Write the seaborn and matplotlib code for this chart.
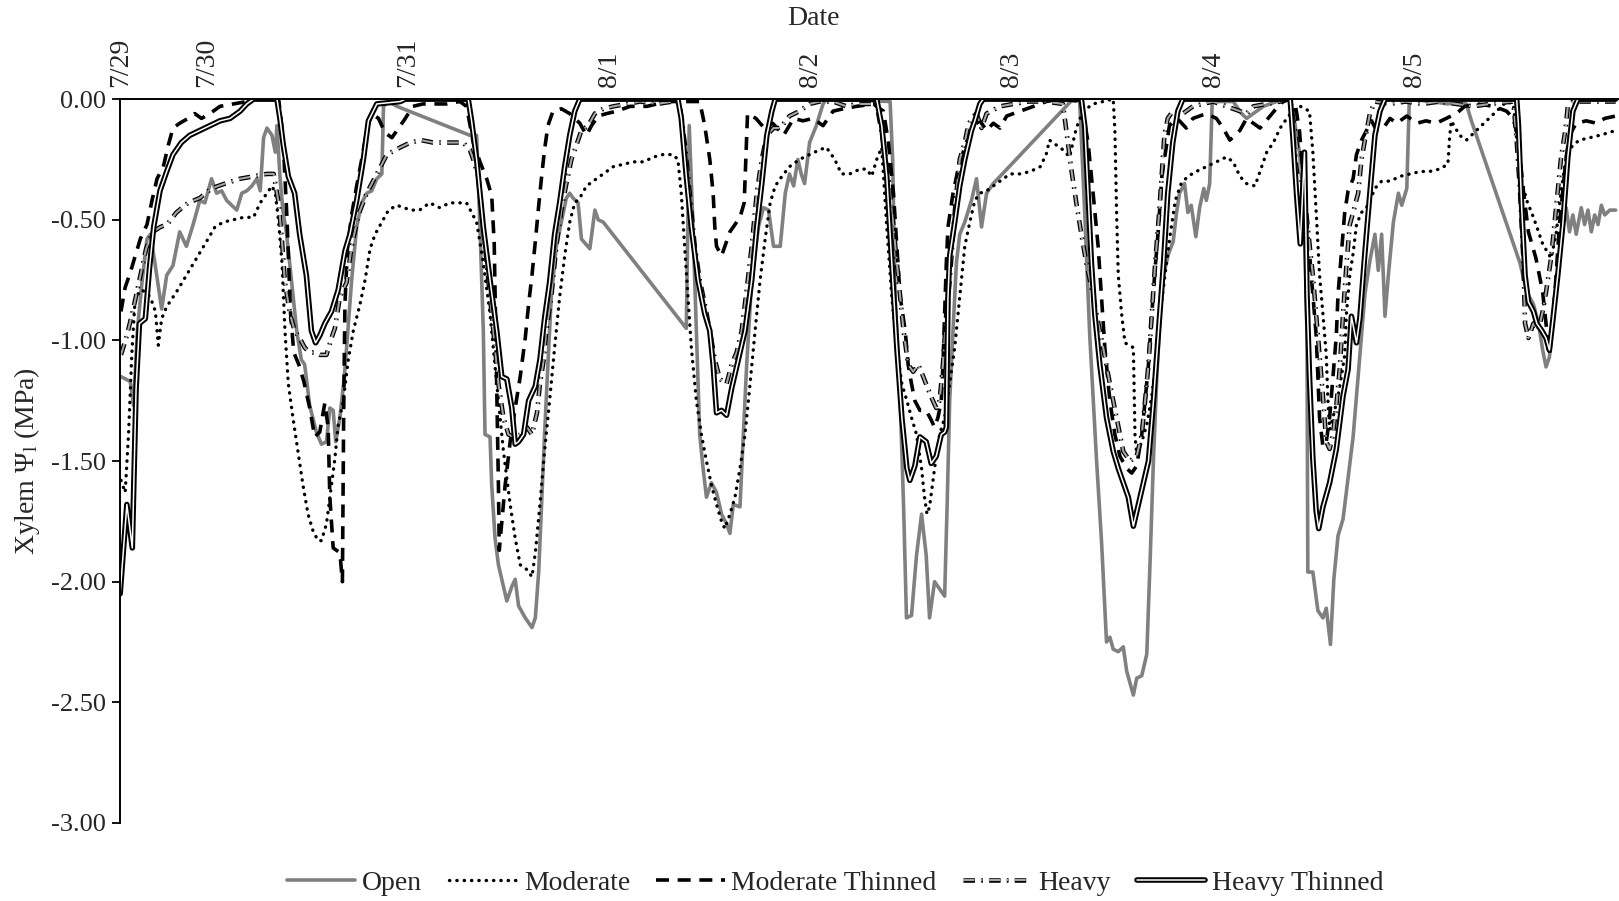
import numpy as np
import matplotlib
matplotlib.use("Agg")
import matplotlib.pyplot as plt
import matplotlib.patheffects as pe
from matplotlib.ticker import FormatStrFormatter
import seaborn as sns

sns.set_theme(style="white")
plt.rcParams["font.family"] = ["Liberation Serif", "DejaVu Serif"]
plt.rcParams["mathtext.fontset"] = "custom"
plt.rcParams["mathtext.rm"] = "Liberation Serif"
plt.rcParams["mathtext.it"] = "Liberation Serif:italic"
plt.rcParams["axes.unicode_minus"] = False

# --- DATA: (hours since 7/29 00:00, xylem water potential MPa) ---
open_pts = [
    (13.8, -1.15), (14.9, -1.17), (15.3, -1.27), (15.75, -0.96), (16.3, -0.76), (16.9, -0.58),
    (17.3, -0.56), (17.85, -0.68), (18.65, -0.87), (19.25, -0.73), (20.0, -0.69), (20.8, -0.55),
    (21.6, -0.61), (22.4, -0.52), (23.2, -0.42), (23.8, -0.43), (24.6, -0.33), (25.2, -0.39),
    (25.8, -0.38), (26.4, -0.42), (27.0, -0.44), (27.6, -0.46), (28.2, -0.39), (28.8, -0.38),
    (29.4, -0.36), (30.0, -0.33), (30.4, -0.38), (30.8, -0.16), (31.2, -0.12), (31.8, -0.15),
    (32.2, -0.22), (32.4, -0.11), (32.75, -0.32), (33.1, -0.46), (33.55, -0.56), (34.15, -0.76),
    (34.75, -0.96), (35.3, -1.08), (35.7, -1.10), (36.3, -1.27), (37.1, -1.38), (37.7, -1.43),
    (38.3, -1.42), (38.7, -1.28), (39.1, -1.29), (39.4, -1.42), (39.9, -1.32), (40.4, -1.16),
    (40.7, -1.03), (41.3, -0.75), (41.9, -0.53), (42.5, -0.43), (43.1, -0.39), (43.7, -0.38),
    (44.3, -0.33), (44.9, -0.31), (45.1, -0.03), (45.7, -0.01), (46.7, -0.03), (55.4, -0.15),
    (56.2, -0.15), (56.6, -0.53), (57.0, -0.96), (57.2, -1.39), (57.8, -1.40), (58.0, -1.60),
    (58.4, -1.82), (58.8, -1.93), (59.4, -2.02), (59.8, -2.08), (60.4, -2.02), (60.8, -1.99),
    (61.2, -2.10), (62.0, -2.15), (62.8, -2.19), (63.2, -2.15), (63.6, -1.96), (63.95, -1.68),
    (64.3, -1.39), (64.7, -1.10), (65.1, -0.82), (65.7, -0.61), (66.3, -0.51), (66.9, -0.41),
    (67.3, -0.39), (67.7, -0.41), (68.3, -0.43), (68.7, -0.58), (69.7, -0.62), (70.3, -0.46),
    (70.7, -0.50), (71.3, -0.51), (81.2, -0.95), (81.55, -0.11), (82.0, -0.53), (82.4, -0.96),
    (82.8, -1.39), (83.2, -1.53), (83.6, -1.65), (84.2, -1.59), (84.8, -1.63), (85.4, -1.72),
    (86.0, -1.76), (86.4, -1.80), (86.8, -1.68), (87.6, -1.69), (88.0, -1.39), (88.4, -1.10),
    (89.0, -0.75), (89.8, -0.53), (90.4, -0.45), (91.0, -0.46), (91.6, -0.61), (92.4, -0.61),
    (93.0, -0.39), (93.5, -0.31), (94.0, -0.36), (94.5, -0.25), (94.9, -0.31), (95.3, -0.35),
    (95.9, -0.18), (96.7, -0.11), (97.5, -0.02), (97.9, 0.0), (105.5, -0.01), (105.8, -0.25),
    (106.1, -0.82), (106.7, -1.25), (107.1, -1.68), (107.45, -2.15), (108.05, -2.14),
    (108.65, -1.89), (109.25, -1.72), (109.8, -1.89), (110.2, -2.15), (110.8, -2.00),
    (111.4, -2.03), (112.0, -2.06), (112.3, -1.68), (112.6, -1.25), (113.0, -0.96), (113.4, -0.68),
    (113.8, -0.56), (114.4, -0.51), (115.2, -0.42), (115.8, -0.33), (116.4, -0.53), (117.0, -0.39),
    (117.8, -0.35), (127.3, 0.0), (128.1, -0.01), (128.7, -0.47), (129.3, -0.98), (130.1, -1.49),
    (130.7, -1.83), (131.3, -2.25), (131.7, -2.23), (132.1, -2.28), (132.7, -2.29), (133.3, -2.27),
    (133.7, -2.37), (134.1, -2.42), (134.5, -2.47), (134.9, -2.40), (135.5, -2.39), (136.1, -2.30),
    (136.5, -1.91), (136.9, -1.49), (137.3, -1.15), (137.7, -0.89), (138.1, -0.73), (138.7, -0.64),
    (139.25, -0.59), (139.65, -0.47), (140.0, -0.39), (140.6, -0.35), (141.0, -0.47), (141.4, -0.44),
    (141.95, -0.57), (142.4, -0.45), (142.9, -0.37), (143.2, -0.42), (143.6, -0.35), (143.9, -0.01),
    (146.4, -0.01), (147.4, -0.06), (148.0, -0.08), (148.8, -0.06), (150.0, -0.03), (151.6, -0.01),
    (153.2, 0.0), (153.75, -0.10), (154.3, -0.22), (154.9, -0.47), (155.2, -0.98), (155.3, -1.96),
    (155.9, -1.96), (156.5, -2.12), (157.1, -2.15), (157.5, -2.11), (158.0, -2.26), (158.4, -1.99),
    (158.9, -1.81), (159.5, -1.74), (160.1, -1.57), (160.7, -1.40), (161.3, -1.15), (161.7, -0.98),
    (162.1, -0.81), (162.7, -0.67), (163.3, -0.56), (163.7, -0.71), (164.1, -0.56), (164.5, -0.90),
    (164.9, -0.73), (165.5, -0.51), (166.1, -0.39), (166.5, -0.44), (167.1, -0.37), (167.4, 0.0),
    (170.0, -0.01), (172.0, -0.02), (173.5, -0.01), (174.2, -0.02), (174.8, -0.09), (180.6, -0.68),
    (181.4, -0.80), (182.2, -0.85), (182.8, -0.93), (183.3, -1.04), (183.7, -1.11), (184.1, -1.07),
    (184.5, -0.93), (185.1, -0.73), (185.7, -0.52), (186.1, -0.45), (186.5, -0.55), (186.9, -0.48),
    (187.3, -0.56), (187.9, -0.45), (188.3, -0.52), (188.7, -0.46), (189.1, -0.55), (189.5, -0.48),
    (189.9, -0.52), (190.3, -0.44), (190.7, -0.48), (191.3, -0.46), (192.0, -0.46),
]

moderate_pts = [
    (13.8, -1.58), (14.3, -1.63), (14.7, -1.39), (15.1, -1.05), (15.5, -0.82), (16.3, -0.79),
    (17.3, -0.82), (17.9, -0.88), (18.25, -1.02), (18.65, -0.91), (19.25, -0.86), (20.4, -0.80),
    (21.6, -0.73), (22.8, -0.66), (24.0, -0.59), (25.0, -0.53), (26.0, -0.51), (27.2, -0.50),
    (28.4, -0.49), (29.6, -0.49), (30.4, -0.43), (31.2, -0.39), (31.8, -0.36), (32.2, -0.39),
    (32.6, -0.51), (33.0, -0.68), (33.35, -0.96), (33.75, -1.18), (34.3, -1.32), (34.9, -1.46),
    (35.5, -1.60), (36.1, -1.72), (36.7, -1.79), (37.3, -1.83), (37.7, -1.83), (38.3, -1.76),
    (38.9, -1.60), (39.3, -1.49), (39.7, -1.35), (40.3, -1.25), (40.9, -1.08), (41.5, -0.96),
    (42.3, -0.85), (42.9, -0.75), (43.5, -0.62), (44.1, -0.56), (44.9, -0.51), (45.7, -0.46),
    (46.7, -0.44), (47.5, -0.45), (48.4, -0.46), (49.4, -0.46), (50.6, -0.43), (51.8, -0.45),
    (53.0, -0.43), (54.2, -0.43), (55.0, -0.43), (56.2, -0.51), (57.0, -0.68), (57.8, -0.89),
    (58.6, -1.18), (59.4, -1.46), (60.2, -1.68), (60.8, -1.82), (61.4, -1.93), (62.2, -1.95),
    (62.8, -1.98), (63.2, -1.88), (63.75, -1.68), (64.3, -1.46), (64.9, -1.25), (65.5, -1.03),
    (66.1, -0.82), (66.7, -0.65), (67.3, -0.51), (67.9, -0.43), (68.5, -0.41), (69.3, -0.36),
    (70.1, -0.34), (71.3, -0.31), (72.5, -0.28), (73.7, -0.27), (74.9, -0.26), (76.1, -0.26),
    (77.3, -0.24), (78.4, -0.23), (79.6, -0.23), (80.2, -0.25), (80.6, -0.39), (81.0, -0.61),
    (81.4, -0.82), (81.8, -1.03), (82.4, -1.25), (83.0, -1.39), (83.6, -1.50), (84.2, -1.60),
    (84.8, -1.68), (85.4, -1.75), (85.8, -1.78), (86.4, -1.72), (87.0, -1.65), (87.6, -1.53),
    (88.2, -1.39), (88.8, -1.18), (89.4, -0.96), (90.0, -0.75), (90.6, -0.58), (91.2, -0.43),
    (91.8, -0.36), (92.6, -0.32), (93.5, -0.28), (94.7, -0.25), (95.9, -0.23), (97.1, -0.21),
    (97.9, -0.20), (98.9, -0.25), (99.7, -0.31), (100.7, -0.31), (101.9, -0.29), (102.7, -0.29),
    (103.3, -0.32), (103.9, -0.25), (104.5, -0.20), (105.1, -0.53), (105.7, -0.82), (106.3, -1.03),
    (106.9, -1.18), (107.5, -1.25), (108.05, -1.32), (108.65, -1.39), (109.25, -1.53), (109.6, -1.65),
    (109.9, -1.72), (110.2, -1.69), (110.8, -1.53), (111.4, -1.39), (112.0, -1.32), (112.6, -1.18),
    (113.2, -1.03), (113.8, -0.82), (114.4, -0.61), (115.0, -0.51), (115.6, -0.42), (116.2, -0.39),
    (117.0, -0.38), (117.8, -0.36), (118.6, -0.34), (119.8, -0.31), (121.0, -0.31), (122.2, -0.30),
    (123.4, -0.28), (124.1, -0.23), (124.5, -0.17), (125.3, -0.19), (126.1, -0.21), (126.9, -0.24),
    (127.7, -0.12), (128.5, -0.05), (129.7, -0.02), (132.1, 0.0), (132.3, -0.13), (132.5, -0.47),
    (132.7, -0.73), (133.1, -0.89), (133.5, -1.01), (134.5, -1.03), (134.7, -1.40), (134.9, -1.47),
    (135.5, -1.42), (136.1, -1.35), (136.7, -1.23), (137.3, -1.06), (137.7, -0.89), (138.3, -0.72),
    (138.9, -0.56), (139.5, -0.42), (140.2, -0.35), (141.0, -0.32), (142.0, -0.30), (143.2, -0.28),
    (144.4, -0.26), (145.6, -0.24), (146.4, -0.26), (147.2, -0.32), (148.0, -0.35), (149.0, -0.36),
    (149.6, -0.30), (150.4, -0.22), (151.2, -0.18), (152.0, -0.12), (152.8, -0.08), (153.5, -0.05),
    (154.4, -0.03), (155.5, -0.05), (155.9, -0.22), (156.3, -0.47), (156.7, -0.73), (157.1, -0.89),
    (157.5, -1.06), (157.7, -1.25), (157.9, -1.37), (158.3, -1.32), (158.9, -1.23), (159.3, -1.15),
    (159.7, -1.06), (159.9, -0.89), (160.3, -0.73), (160.7, -0.64), (161.1, -0.52), (161.7, -0.47),
    (162.5, -0.44), (163.3, -0.37), (164.1, -0.34), (165.1, -0.34), (166.3, -0.32), (167.5, -0.31),
    (168.7, -0.30), (169.8, -0.30), (171.0, -0.29), (172.0, -0.27), (172.2, -0.16), (172.4, -0.09),
    (173.4, -0.15), (174.2, -0.17), (175.4, -0.13), (176.6, -0.09), (177.8, -0.05), (179.0, -0.01),
    (179.8, -0.02), (180.6, -0.31), (181.4, -0.42), (182.2, -0.49), (183.3, -0.60), (184.3, -0.66),
    (184.9, -0.56), (185.5, -0.38), (186.1, -0.24), (186.9, -0.19), (187.7, -0.17), (188.9, -0.16),
    (190.1, -0.15), (191.1, -0.14), (192.0, -0.13),
]

mod_thinned_pts = [
    (13.8, -0.88), (14.3, -0.78), (14.9, -0.72), (15.5, -0.65), (16.1, -0.58), (16.9, -0.52),
    (17.5, -0.42), (18.1, -0.33), (18.85, -0.28), (19.45, -0.19), (20.0, -0.12), (20.8, -0.10),
    (21.8, -0.08), (22.6, -0.06), (23.4, -0.08), (24.4, -0.06), (25.6, -0.03), (27.2, -0.02),
    (28.8, -0.01), (29.6, 0.0), (32.6, 0.0), (33.1, -0.15), (33.6, -0.50), (34.0, -0.88),
    (34.4, -1.05), (35.0, -1.10), (35.6, -1.17), (36.3, -1.28), (36.9, -1.40), (37.5, -1.38),
    (38.1, -1.26), (38.5, -1.36), (38.7, -1.65), (39.1, -1.86), (39.9, -1.88), (40.2, -2.00),
    (40.35, -1.30), (40.5, -0.85), (40.8, -0.62), (41.3, -0.48), (41.9, -0.36), (42.5, -0.25),
    (43.1, -0.13), (43.7, -0.06), (44.5, -0.08), (45.3, -0.14), (46.1, -0.16), (46.9, -0.12),
    (47.7, -0.08), (48.6, -0.03), (49.8, -0.02), (52.6, -0.02), (54.2, -0.01), (55.0, -0.03),
    (55.8, -0.18), (56.6, -0.26), (57.4, -0.33), (58.0, -0.40), (58.3, -0.60), (58.5, -1.00),
    (58.7, -1.40), (58.8, -1.60), (58.9, -1.87), (59.6, -1.60), (60.2, -1.42), (60.8, -1.28),
    (61.4, -1.15), (62.0, -0.99), (62.4, -0.85), (62.8, -0.73), (63.2, -0.59), (63.55, -0.46),
    (63.95, -0.32), (64.3, -0.21), (64.7, -0.11), (65.3, -0.05), (66.3, -0.04), (67.3, -0.06),
    (68.5, -0.10), (69.3, -0.15), (69.9, -0.11), (70.7, -0.07), (71.7, -0.06), (72.9, -0.05),
    (74.5, -0.03), (76.5, -0.03), (78.9, -0.01), (82.8, -0.01), (83.4, -0.11), (84.0, -0.25),
    (84.4, -0.39), (84.6, -0.53), (84.8, -0.61), (85.4, -0.65), (86.0, -0.59), (86.4, -0.55),
    (87.6, -0.49), (88.1, -0.43), (88.3, -0.25), (88.5, -0.06), (89.5, -0.08), (90.5, -0.12),
    (91.5, -0.10), (92.8, -0.15), (94.0, -0.08), (95.1, -0.09), (96.3, -0.08), (97.5, -0.11),
    (98.7, -0.05), (99.9, -0.04), (101.5, -0.03), (103.5, -0.02), (104.7, -0.05), (105.3, -0.18),
    (105.9, -0.39), (106.3, -0.61), (106.7, -0.82), (107.3, -0.96), (107.65, -1.10), (108.05, -1.18),
    (108.45, -1.25), (109.05, -1.29), (109.8, -1.29), (110.4, -1.33), (110.8, -1.36), (111.2, -1.32),
    (111.6, -1.25), (111.8, -1.10), (112.0, -0.89), (112.2, -0.68), (112.4, -0.53), (113.0, -0.39),
    (113.6, -0.29), (114.2, -0.22), (114.8, -0.16), (115.4, -0.11), (116.2, -0.09), (117.0, -0.13),
    (117.8, -0.10), (118.6, -0.12), (119.4, -0.07), (121.0, -0.05), (122.6, -0.03), (124.1, -0.01),
    (125.7, 0.0), (128.3, -0.01), (129.1, -0.18), (129.7, -0.39), (130.3, -0.61), (130.7, -0.82),
    (131.1, -1.03), (131.7, -1.25), (132.3, -1.39), (132.9, -1.48), (133.7, -1.53), (134.3, -1.55),
    (134.9, -1.52), (135.5, -1.39), (135.9, -1.25), (136.3, -1.10), (136.7, -0.89), (137.1, -0.70),
    (137.5, -0.53), (137.9, -0.32), (138.5, -0.18), (138.8, -0.11), (139.6, -0.08), (140.0, -0.09),
    (140.8, -0.12), (141.6, -0.08), (143.2, -0.06), (144.4, -0.08), (145.2, -0.12), (146.0, -0.17),
    (147.2, -0.13), (148.0, -0.08), (149.6, -0.12), (150.8, -0.07), (152.0, -0.02), (152.8, 0.0),
    (153.75, -0.01), (154.3, -0.13), (154.7, -0.30), (155.1, -0.47), (155.5, -0.64), (155.9, -0.81),
    (156.3, -0.98), (156.5, -1.15), (156.7, -1.32), (157.1, -1.44), (157.5, -1.42), (157.9, -1.32),
    (158.3, -1.15), (158.7, -0.98), (158.9, -0.81), (159.3, -0.64), (159.7, -0.47), (160.1, -0.38),
    (160.7, -0.33), (161.1, -0.23), (161.7, -0.17), (162.3, -0.13), (162.9, -0.09), (163.5, -0.13),
    (164.3, -0.12), (165.1, -0.08), (165.9, -0.10), (167.1, -0.07), (168.3, -0.10), (169.4, -0.09),
    (170.6, -0.10), (171.8, -0.08), (173.0, -0.06), (174.0, -0.03), (175.5, -0.02), (177.5, -0.03),
    (179.0, -0.05), (179.8, -0.08), (180.4, -0.17), (181.0, -0.38), (181.6, -0.55), (182.5, -0.66),
    (183.3, -0.80), (183.7, -0.93), (184.1, -1.06), (184.5, -0.93), (184.9, -0.73), (185.3, -0.52),
    (185.7, -0.38), (186.1, -0.24), (186.5, -0.15), (187.3, -0.10), (188.5, -0.09), (189.7, -0.10),
    (190.7, -0.08), (192.0, -0.07),
]

heavy_pts = [
    (13.8, -1.06), (14.5, -0.98), (15.2, -0.88), (16.0, -0.75), (16.8, -0.62), (17.6, -0.55),
    (18.5, -0.53), (19.3, -0.52), (20.4, -0.47), (21.8, -0.43), (23.2, -0.41), (24.6, -0.37),
    (26.2, -0.35), (28.0, -0.33), (29.6, -0.32), (31.2, -0.31), (32.0, -0.31), (32.6, -0.43),
    (33.0, -0.59), (33.35, -0.76), (33.95, -0.89), (34.5, -0.96), (35.1, -0.99), (35.7, -1.03),
    (36.3, -1.05), (36.9, -1.05), (37.5, -1.06), (38.3, -1.06), (38.9, -0.99), (39.3, -0.95),
    (39.9, -0.82), (40.7, -0.76), (41.3, -0.61), (42.1, -0.48), (43.1, -0.39), (44.3, -0.31),
    (45.5, -0.23), (47.1, -0.20), (48.3, -0.18), (49.6, -0.17), (51.0, -0.18), (52.2, -0.18),
    (53.4, -0.18), (54.6, -0.18), (55.4, -0.21), (55.8, -0.25), (56.4, -0.32), (57.0, -0.53),
    (57.6, -0.75), (58.2, -0.96), (58.8, -1.18), (59.4, -1.32), (60.0, -1.39), (60.6, -1.40),
    (61.4, -1.39), (62.2, -1.36), (62.8, -1.39), (63.4, -1.30), (63.75, -1.18), (64.2, -1.08),
    (64.5, -0.96), (65.1, -0.82), (65.7, -0.61), (66.3, -0.46), (66.9, -0.35), (67.5, -0.25),
    (68.1, -0.19), (68.7, -0.13), (69.5, -0.11), (70.3, -0.06), (71.3, -0.04), (72.5, -0.03),
    (74.1, -0.02), (75.7, -0.01), (77.7, -0.02), (79.6, -0.01), (80.4, -0.02), (81.0, -0.18),
    (81.6, -0.39), (82.2, -0.61), (82.8, -0.75), (83.4, -0.85), (84.0, -0.96), (84.6, -1.08),
    (85.2, -1.16), (86.0, -1.18), (86.6, -1.10), (87.2, -1.05), (87.8, -0.96), (88.4, -0.79),
    (89.0, -0.61), (89.6, -0.39), (90.2, -0.25), (90.8, -0.15), (91.6, -0.12), (92.4, -0.12),
    (93.5, -0.07), (94.7, -0.05), (95.9, -0.02), (97.1, -0.01), (98.7, -0.01), (100.3, -0.03),
    (101.5, -0.02), (103.9, -0.02), (104.7, -0.18), (105.3, -0.32), (105.9, -0.53), (106.5, -0.75),
    (107.1, -0.96), (107.65, -1.10), (108.25, -1.13), (108.85, -1.10), (109.45, -1.15), (110.0, -1.20),
    (110.6, -1.25), (111.0, -1.28), (111.4, -1.25), (111.8, -1.10), (112.2, -0.89), (112.6, -0.75),
    (113.0, -0.56), (113.4, -0.39), (113.8, -0.25), (114.4, -0.18), (114.8, -0.11), (115.2, -0.08),
    (115.8, -0.06), (116.4, -0.12), (117.0, -0.06), (118.6, -0.03), (120.2, -0.02), (122.0, -0.01),
    (124.0, -0.01), (126.1, -0.02), (126.7, -0.18), (127.1, -0.29), (127.7, -0.43), (128.3, -0.56),
    (128.9, -0.68), (129.5, -0.78), (130.1, -0.89), (130.9, -1.03), (131.7, -1.18), (132.5, -1.32),
    (133.3, -1.46), (134.1, -1.50), (134.9, -1.48), (135.5, -1.39), (135.9, -1.25), (136.3, -1.10),
    (136.7, -0.89), (137.1, -0.68), (137.6, -0.46), (138.0, -0.25), (138.2, -0.15), (138.6, -0.08),
    (139.2, -0.05), (140.4, -0.06), (141.6, -0.03), (142.8, -0.02), (144.0, -0.01), (145.6, -0.03),
    (147.2, -0.05), (148.0, -0.06), (148.8, -0.03), (150.4, -0.02), (152.0, -0.01), (153.2, 0.0),
    (153.75, -0.13), (154.4, -0.30), (155.1, -0.47), (155.9, -0.73), (156.5, -0.98), (157.1, -1.23),
    (157.5, -1.42), (157.9, -1.45), (158.3, -1.39), (158.7, -1.27), (159.1, -1.12), (159.5, -0.89),
    (159.9, -0.69), (160.3, -0.52), (160.7, -0.47), (161.3, -0.39), (161.7, -0.25), (162.1, -0.17),
    (162.7, -0.06), (163.3, -0.01), (165.0, -0.02), (167.0, -0.01), (169.0, -0.02), (171.0, -0.01),
    (173.0, -0.02), (175.0, -0.03), (177.0, -0.02), (179.8, -0.01), (180.2, -0.17), (180.6, -0.38),
    (181.0, -0.66), (181.2, -0.93), (181.6, -0.99), (182.2, -0.93), (182.8, -0.96), (183.3, -0.88),
    (183.7, -0.80), (184.3, -0.66), (184.7, -0.52), (185.1, -0.38), (185.5, -0.24), (186.0, -0.13),
    (186.3, -0.03), (186.9, -0.01), (192.0, -0.01),
]

heavy_thinned_pts = [
    (13.7, -2.05), (14.5, -1.68), (15.15, -1.86), (15.6, -1.20), (16.0, -0.93), (16.7, -0.91),
    (17.2, -0.70), (17.7, -0.53), (18.45, -0.38), (19.25, -0.30), (20.0, -0.23), (21.0, -0.18),
    (22.0, -0.15), (23.2, -0.13), (24.4, -0.11), (25.6, -0.09), (26.8, -0.08), (28.0, -0.05),
    (28.8, -0.02), (29.6, 0.0), (32.4, 0.0), (32.75, -0.08), (33.15, -0.19), (33.75, -0.32),
    (34.5, -0.39), (35.1, -0.56), (35.9, -0.73), (36.5, -0.96), (37.0, -1.01), (37.5, -0.98),
    (38.1, -0.93), (38.9, -0.88), (39.7, -0.79), (40.5, -0.63), (41.1, -0.56), (41.9, -0.42),
    (42.7, -0.25), (43.3, -0.09), (44.3, -0.02), (47.1, -0.01), (47.7, 0.0), (55.2, 0.0),
    (55.6, -0.09), (56.2, -0.25), (57.0, -0.53), (57.8, -0.75), (58.6, -0.96), (59.2, -1.15),
    (59.8, -1.16), (60.4, -1.28), (60.8, -1.43), (61.2, -1.42), (61.8, -1.39), (62.4, -1.25),
    (63.2, -1.19), (63.75, -1.08), (64.3, -0.91), (64.9, -0.76), (65.5, -0.56), (66.1, -0.43),
    (66.7, -0.28), (67.3, -0.15), (67.9, -0.05), (68.5, 0.0), (80.2, 0.0), (80.6, -0.08),
    (81.2, -0.32), (81.8, -0.53), (82.6, -0.75), (83.4, -0.89), (84.0, -0.96), (84.4, -1.10),
    (84.8, -1.30), (85.4, -1.29), (86.0, -1.31), (86.6, -1.20), (87.4, -1.08), (88.2, -0.96),
    (89.0, -0.75), (89.6, -0.53), (90.2, -0.35), (90.8, -0.15), (91.4, -0.05), (91.8, 0.0),
    (103.9, 0.0), (104.5, -0.11), (105.1, -0.32), (105.7, -0.68), (106.3, -1.03), (106.9, -1.32),
    (107.5, -1.53), (107.85, -1.58), (108.45, -1.52), (109.05, -1.40), (109.8, -1.42), (110.4, -1.51),
    (111.0, -1.48), (111.6, -1.39), (112.0, -1.38), (112.2, -1.36), (112.4, -0.82), (112.6, -0.65),
    (113.2, -0.51), (113.8, -0.36), (114.4, -0.25), (115.2, -0.13), (115.6, -0.09), (116.2, -0.02),
    (116.6, 0.0), (128.3, 0.0), (128.7, -0.11), (129.1, -0.39), (129.5, -0.68), (129.9, -0.89),
    (130.5, -1.10), (131.3, -1.32), (132.1, -1.46), (132.7, -1.53), (133.3, -1.59), (133.9, -1.65),
    (134.5, -1.77), (135.1, -1.68), (135.7, -1.59), (136.3, -1.50), (136.9, -1.25), (137.5, -0.96),
    (138.1, -0.68), (138.6, -0.39), (139.2, -0.18), (139.8, -0.05), (140.4, 0.0), (153.2, 0.0),
    (153.55, -0.17), (153.95, -0.39), (154.4, -0.60), (154.9, -0.22), (155.2, -0.81), (155.5, -1.15),
    (155.9, -1.49), (156.3, -1.71), (156.6, -1.78), (157.1, -1.69), (157.9, -1.59), (158.7, -1.45),
    (159.5, -1.23), (160.1, -1.12), (160.5, -0.90), (161.1, -1.01), (161.5, -0.91), (162.1, -0.64),
    (162.7, -0.39), (163.3, -0.15), (163.9, -0.05), (164.5, 0.0), (180.2, 0.0), (180.4, -0.10),
    (180.8, -0.45), (181.2, -0.73), (181.6, -0.84), (182.2, -0.88), (182.6, -0.93), (183.2, -0.96),
    (183.7, -0.99), (184.1, -1.04), (184.5, -0.92), (185.1, -0.73), (185.7, -0.52), (186.3, -0.24),
    (186.9, -0.05), (187.5, 0.0), (192.0, 0.0),
]

series_names = ["Open", "Moderate", "Moderate Thinned", "Heavy", "Heavy Thinned"]
date_ticks = [13.7, 24, 48, 72, 96, 120, 144, 168]
date_labels = ["7/29", "7/30", "7/31", "8/1", "8/2", "8/3", "8/4", "8/5"]
y_ticks = [-3.0, -2.5, -2.0, -1.5, -1.0, -0.5, 0.0]

# --- FIGURE ---
fig = plt.figure(figsize=(16.19, 9.01), dpi=100)
ax = fig.add_axes([0.074, 0.0866, 0.926, 0.8034])

styles = [
    dict(color="#808080", lw=2.6, linestyle="-"),
    dict(color="black", lw=2.4, linestyle=(0, (0.1, 2.1)), dash_capstyle="round"),
    dict(color="black", lw=2.6, linestyle=(0, (3.6, 2.4))),
    dict(color="#a6a6a6", lw=1.5, linestyle=(0, (5.5, 3, 0.8, 3)),
         path_effects=[pe.Stroke(linewidth=3.3, foreground="black"), pe.Normal()]),
    dict(color="white", lw=1.1, linestyle="-",
         path_effects=[pe.Stroke(linewidth=4.0, foreground="black"), pe.Normal()]),
]
all_pts = [open_pts, moderate_pts, mod_thinned_pts, heavy_pts, heavy_thinned_pts]

for name, pts, st in zip(series_names, all_pts, styles):
    t, v = np.array(pts).T
    sns.lineplot(x=t, y=v, ax=ax, sort=False, estimator=None, label=name,
                 legend=False, **st)

ax.set_xlim(13.66, 192.4)
ax.set_ylim(-3, 0)

# x axis drawn along the top (y = 0)
ax.xaxis.tick_top()
ax.set_xticks(date_ticks)
ax.set_xticklabels(date_labels)
ax.tick_params(axis="x", top=True, bottom=False, labeltop=True, labelbottom=False,
               length=0, pad=9, labelsize=20, labelrotation=90)

ax.set_yticks(y_ticks)
ax.yaxis.set_major_formatter(FormatStrFormatter("%.2f"))
ax.tick_params(axis="y", left=True, direction="out", length=6, width=1.3,
               color="black", labelsize=19, pad=4)

for side in ["right", "bottom"]:
    ax.spines[side].set_visible(False)
for side in ["left", "top"]:
    ax.spines[side].set_color("black")
    ax.spines[side].set_linewidth(1.4)

ax.set_xlabel("")
ax.set_ylabel(r"Xylem $\Psi_{\mathrm{l}}$ (MPa)", fontsize=20)
ax.yaxis.set_label_coords(-0.052, 0.5)
fig.text(0.5025, 0.979, "Date", ha="center", va="center", fontsize=20)

ax.legend(loc="center", bbox_to_anchor=(0.516, 0.02), bbox_transform=fig.transFigure,
          ncol=5, frameon=False, fontsize=20, handlelength=2.45,
          handletextpad=0.25, columnspacing=0.95)

fig.savefig("out.png", dpi=100)
